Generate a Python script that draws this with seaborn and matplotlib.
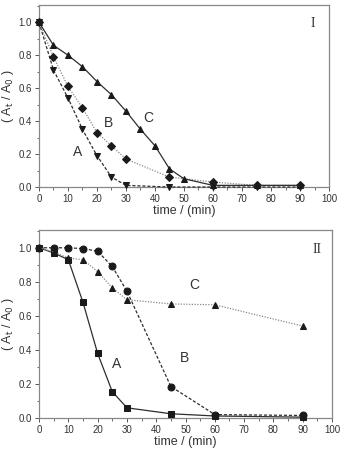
import matplotlib
matplotlib.use("Agg")
from matplotlib import pyplot as plt
from matplotlib.ticker import MultipleLocator, FormatStrFormatter
import seaborn as sns

sns.set_style("ticks")
plt.rcParams["font.family"] = ["Liberation Sans", "DejaVu Sans"]

# panel I
t1_a = [0, 5, 10, 15, 20, 25, 30, 45, 60, 75, 90]
y1_a = [1.0, 0.71, 0.54, 0.35, 0.19, 0.06, 0.01, 0.0, 0.0, 0.0, 0.0]
t1_b = [0, 5, 10, 15, 20, 25, 30, 45, 60, 75, 90]
y1_b = [1.0, 0.79, 0.61, 0.48, 0.33, 0.25, 0.17, 0.06, 0.03, 0.01, 0.01]
t1_c = [0, 5, 10, 15, 20, 25, 30, 35, 40, 45, 50, 60, 75, 90]
y1_c = [1.0, 0.86, 0.80, 0.73, 0.64, 0.56, 0.46, 0.35, 0.25, 0.11, 0.05, 0.01, 0.01, 0.01]

# panel II
t2 = [0, 5, 10, 15, 20, 25, 30, 45, 60, 90]
y2_a = [1.0, 0.97, 0.93, 0.68, 0.38, 0.155, 0.06, 0.025, 0.012, 0.005]
y2_b = [1.0, 1.0, 1.0, 0.995, 0.98, 0.89, 0.745, 0.185, 0.02, 0.015]
y2_c = [1.0, 0.975, 0.94, 0.93, 0.86, 0.765, 0.695, 0.67, 0.665, 0.54]

fig = plt.figure(figsize=(3.42, 4.49), dpi=100)
ax1 = fig.add_axes([0.114, 0.5835, 0.848, 0.4055])
ax2 = fig.add_axes([0.114, 0.069, 0.857, 0.419])

dark = "#2e2e2e"
light = "#8a8a8a"


def curve(ax, x, y, marker, ls, color, ms=5):
    sns.lineplot(x=x, y=y, ax=ax, marker=marker, linestyle=ls, color=color,
                 markersize=ms, markeredgecolor="#1a1a1a", markerfacecolor="#1a1a1a",
                 linewidth=0.9, sort=False, clip_on=False, zorder=3)


curve(ax1, t1_a, y1_a, "v", (0, (2.5, 1.5)), dark)
curve(ax1, t1_b, y1_b, "D", (0, (1, 1.2)), light, ms=4.2)
curve(ax1, t1_c, y1_c, "^", "-", dark)

curve(ax2, t2, y2_a, "s", "-", dark, ms=4.3)
curve(ax2, t2, y2_b, "o", (0, (2.5, 1.5)), dark)
curve(ax2, t2, y2_c, "^", (0, (1, 1.2)), light)

for ax in (ax1, ax2):
    ax.set_xlim(0, 100)
    ax.set_ylim(0, 1.105)
    ax.xaxis.set_major_locator(MultipleLocator(10))
    ax.xaxis.set_minor_locator(MultipleLocator(5))
    ax.yaxis.set_major_locator(MultipleLocator(0.2))
    ax.yaxis.set_minor_locator(MultipleLocator(0.1))
    ax.yaxis.set_major_formatter(FormatStrFormatter("%.1f"))
    ax.tick_params(which="major", length=3, width=0.7, labelsize=7,
                   colors="#555555", labelcolor="#333333", pad=2)
    ax.tick_params(which="minor", length=1.8, width=0.6, colors="#555555")
    for s in ax.spines.values():
        s.set_color("#888888")
        s.set_linewidth(0.9)
    ax.set_xlabel("time / (min)", fontsize=9, color="#333333", labelpad=1)
    ax.set_ylabel(r"( A$_{\rm t}$ / A$_{\rm 0}$ )", fontsize=9, color="#333333", labelpad=2)

for ax, labels in ((ax1, [("A", 13.4, 0.21), ("B", 24, 0.39), ("C", 37.6, 0.42)]),
                   (ax2, [("A", 26.6, 0.32), ("B", 49.8, 0.35), ("C", 53, 0.78)])):
    for txt, x, y in labels:
        ax.text(x, y, txt, fontsize=10, color="#333333", ha="center", va="center")

ax1.text(94.5, 0.99, "I", fontsize=10, family="Liberation Serif", color="#333333",
         ha="center", va="center")
ax2.text(95, 0.99, "II", fontsize=10, family="Liberation Serif", color="#333333",
         ha="center", va="center")

fig.savefig("out.png", dpi=100)
